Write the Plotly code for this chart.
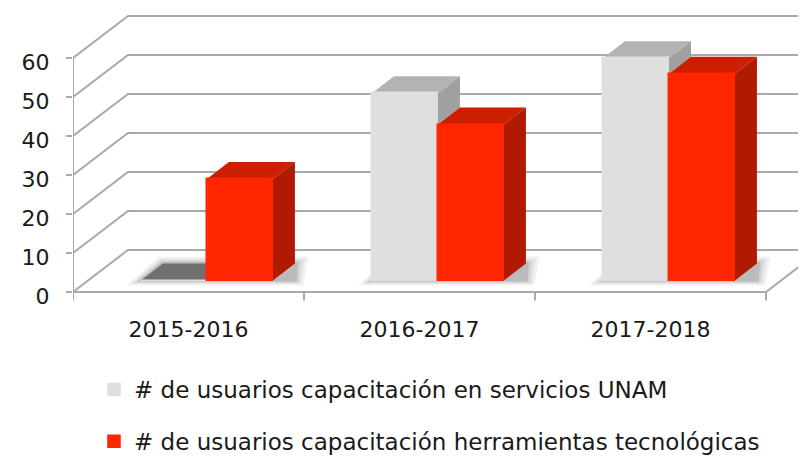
import plotly.graph_objects as go

# ---------------- data ----------------
categories = ["2015-2016", "2016-2017", "2017-2018"]
servicios = [0, 48, 57]
herramientas = [26, 40, 53]
series_names = [
    "# de usuarios capacitación en servicios UNAM",
    "# de usuarios capacitación herramientas tecnológicas",
]
y_ticks = [0, 10, 20, 30, 40, 50, 60]

# ---------------- geometry / style ----------------
W_PAGE, H_PAGE = 806, 458
OFF = 8                      # page body margin
W, H = W_PAGE - OFF, H_PAGE - OFF
PLOT_LEFT = 73 - OFF
PLOT_BOTTOM_PX = 305 - OFF
FRONT_ZERO_PX = 292 - OFF
PX_PER_CAT = 231.0
PX_PER_UNIT = 3.9

X0 = -0.5
X1 = X0 + (W - PLOT_LEFT) / PX_PER_CAT
Y_TOP = FRONT_ZERO_PX / PX_PER_UNIT
Y_BOT = -(PLOT_BOTTOM_PX - FRONT_ZERO_PX) / PX_PER_UNIT
PLOT_H = PLOT_BOTTOM_PX

WALL_DX = 55 / PX_PER_CAT
WALL_DY = 42 / PX_PER_UNIT
BAR_OX = -0.206
BAR_W = 66 / PX_PER_CAT
BAR_OY = 11.5 / PX_PER_UNIT
DEP_DX = 22 / PX_PER_CAT
DEP_DY = 17 / PX_PER_UNIT

GRID = "#a9a9a9"
GREY = dict(front="#dfdfdf", top="#b3b3b3", side="#a0a0a0", zero="#707070")
RED = dict(front="#ff2600", top="#cc1f00", side="#b01a00", zero="#7a1200")
FONT = "DejaVu Sans"
TEXT = "#1a1a1a"

shapes = []


def path(pts, fill=None, line=None, lw=0):
    d = "M " + " L ".join(f"{x:.5f},{y:.5f}" for x, y in pts)
    if fill:
        d += " Z"
    s = dict(type="path", path=d, xref="x", yref="y", layer="below")
    s["fillcolor"] = fill if fill else "rgba(0,0,0,0)"
    s["line"] = dict(color=line or "rgba(0,0,0,0)", width=lw)
    return s


# back walls / gridlines
for v in y_ticks:
    shapes.append(path([(X0, v), (X0 + WALL_DX, v + WALL_DY), (X1 + 1, v + WALL_DY)],
                       line=GRID, lw=2))
# front vertical axis
shapes.append(path([(X0, 0), (X0, y_ticks[-1])], line=GRID, lw=2))
# front floor edge + right floor edge
n = len(categories)
shapes.append(path([(X0, 0), (X0 + n, 0), (X0 + n + WALL_DX, WALL_DY)], line=GRID, lw=2))
# category tick marks
for k in range(n + 1):
    shapes.append(path([(X0 + k, 0), (X0 + k, -8.5 / PX_PER_UNIT)], line=GRID, lw=2))

# soft shadows on the floor
for i in range(n):
    xl = i + BAR_OX
    xr = xl + 2 * BAR_W
    for e, a in [(14, 0.05), (10, 0.06), (6, 0.08), (3, 0.10)]:
        ex = e / PX_PER_CAT
        ey = e / PX_PER_UNIT
        pts = [(xl - ex, BAR_OY - ey * 0.35), (xr + DEP_DX + ex * 0.6, BAR_OY - ey * 0.35),
               (xr + DEP_DX + ex, BAR_OY + DEP_DY + ey * 0.5),
               (xl + DEP_DX - ex * 0.3, BAR_OY + DEP_DY + ey * 0.5)]
        shapes.append(path(pts, fill=f"rgba(0,0,0,{a})"))

# 3-D faces (tops and sides) for each bar
for i in range(n):
    for j, (vals, col) in enumerate([(servicios, GREY), (herramientas, RED)]):
        v = vals[i]
        xl = i + BAR_OX + j * BAR_W
        xr = xl + BAR_W
        yt = BAR_OY + v
        top_col = col["top"] if v > 0 else col["zero"]
        top = [(xl, yt), (xr, yt), (xr + DEP_DX, yt + DEP_DY), (xl + DEP_DX, yt + DEP_DY)]
        if j == 0 and herramientas[i] >= v:
            top = [(xl, yt), (xr, yt), (xr, yt + DEP_DY), (xl + DEP_DX, yt + DEP_DY)]
        shapes.append(path(top, fill=top_col))
        if j == 0:
            other = BAR_OY + herramientas[i]
            if v > herramientas[i]:
                side = [(xr, other), (xr, yt), (xr + DEP_DX, yt + DEP_DY),
                        (xr + DEP_DX, other + DEP_DY)]
                shapes.append(path(side, fill=col["side"]))
        else:
            if v > 0:
                side = [(xr, BAR_OY), (xr, yt), (xr + DEP_DX, yt + DEP_DY),
                        (xr + DEP_DX, BAR_OY + DEP_DY)]
                shapes.append(path(side, fill=col["side"]))

fig = go.Figure()
for j, (vals, col) in enumerate([(servicios, GREY), (herramientas, RED)]):
    fig.add_trace(go.Bar(
        x=[i + BAR_OX + (j + 0.5) * BAR_W for i in range(n)],
        y=vals,
        base=BAR_OY,
        width=BAR_W,
        name=series_names[j],
        legendgroup=f"g{j}",
        marker=dict(color=col["front"], line=dict(width=1.5, color=col["front"])),
        hovertemplate="%{customdata}: %{y}<extra>" + series_names[j] + "</extra>",
        customdata=categories,
    ))

LEG_LEFT = 94 - OFF
LEG_TOP = 368 - OFF

fig.update_layout(
    width=W, height=H,
    margin=dict(l=PLOT_LEFT, r=0, t=0, b=H - PLOT_BOTTOM_PX, autoexpand=False),
    paper_bgcolor="white",
    plot_bgcolor="white",
    barmode="overlay",
    bargap=0,
    shapes=shapes,
    font=dict(family=FONT, color=TEXT, size=22),
    xaxis=dict(
        range=[X0, X1],
        tickvals=list(range(n)),
        ticktext=categories,
        ticks="",
        showgrid=False, zeroline=False, showline=False,
        tickfont=dict(size=22),
        ticklabelstandoff=9,
    ),
    yaxis=dict(
        range=[Y_BOT, Y_TOP],
        tickvals=y_ticks,
        ticks="outside", ticklen=6, tickwidth=2, tickcolor=GRID,
        showgrid=False, zeroline=False, showline=False,
        tickfont=dict(size=22),
        ticklabelstandoff=12,
        ticklabelshift=4,
    ),
    showlegend=True,
    legend=dict(
        orientation="v",
        x=(LEG_LEFT - PLOT_LEFT) / (W - PLOT_LEFT),
        xanchor="left",
        y=(PLOT_BOTTOM_PX - LEG_TOP) / PLOT_H,
        yanchor="top",
        font=dict(size=23, family=FONT, color=TEXT),
        tracegroupgap=19,
        traceorder="grouped",
        bgcolor="rgba(0,0,0,0)",
        itemwidth=30,
    ),
)

fig.write_html("out.html")
